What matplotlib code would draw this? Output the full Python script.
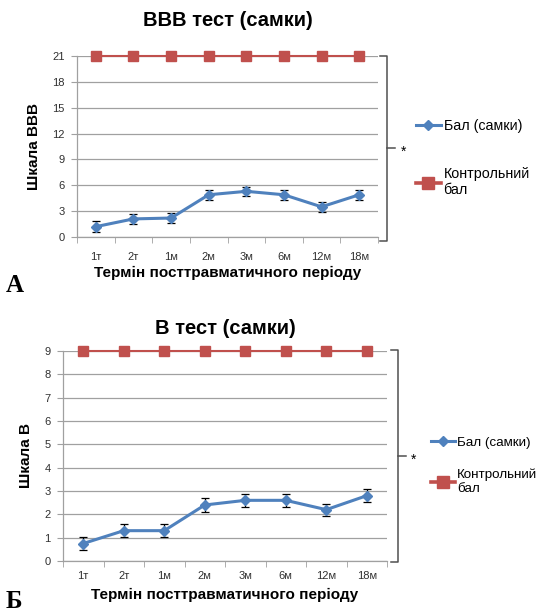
import matplotlib
matplotlib.use("Agg")
import matplotlib.pyplot as plt
from matplotlib.lines import Line2D
import numpy as np

plt.rcParams['font.family'] = ['Liberation Sans', 'DejaVu Sans']

categories = ["1т", "2т", "1м", "2м", "3м", "6м", "12м", "18м"]
bbb_values = [1.2, 2.1, 2.2, 4.9, 5.3, 4.9, 3.5, 4.9]
bbb_errors = [0.6, 0.55, 0.55, 0.55, 0.55, 0.55, 0.55, 0.6]
bbb_control = [21, 21, 21, 21, 21, 21, 21, 21]
b_values = [0.75, 1.3, 1.3, 2.4, 2.6, 2.6, 2.2, 2.8]
b_errors = [0.28, 0.28, 0.28, 0.28, 0.28, 0.27, 0.26, 0.27]
b_control = [9, 9, 9, 9, 9, 9, 9, 9]
bbb_ticks = [0, 3, 6, 9, 12, 15, 18, 21]
b_ticks = [0, 1, 2, 3, 4, 5, 6, 7, 8, 9]

BLUE = "#4F81BD"
RED = "#C0504D"
GRID = "#A0A0A0"

W, H = 539, 614
fig = plt.figure(figsize=(W / 100, H / 100), dpi=100)


def px_rect(l, t, r, b):
    return [l / W, 1 - b / H, (r - l) / W, (b - t) / H]


def make_panel(rect, values, errors, control, ticks, title, ylabel,
               title_y, xlab_y, xtick_pad):
    ax = fig.add_axes(rect)
    x = np.arange(len(categories))
    ax.plot(x, control, color=RED, lw=1.5, marker='s', ms=7.5,
            zorder=3, clip_on=False)
    ax.errorbar(x, values, yerr=errors, color=BLUE, lw=2.2, marker='D',
                ms=5, ecolor='black', elinewidth=0.9, capsize=3,
                capthick=0.9, zorder=4)
    ax.set_xlim(-0.5, len(categories) - 0.5)
    ax.set_ylim(0, ticks[-1])
    ax.set_yticks(ticks)
    ax.set_xticks(x)
    ax.set_xticklabels(categories)
    ax.set_xticks(np.arange(-0.5, len(categories)), minor=True)
    ax.tick_params(axis='x', which='major', length=0, pad=xtick_pad,
                   labelsize=8, colors='#303030')
    ax.tick_params(axis='x', which='minor', length=4, color=GRID)
    ax.tick_params(axis='y', length=4, color=GRID, labelsize=8,
                   labelcolor='#303030', pad=5)
    ax.grid(axis='y', color=GRID, lw=0.9)
    ax.set_axisbelow(True)
    for s in ['top', 'right']:
        ax.spines[s].set_visible(False)
    for s in ['left', 'bottom']:
        ax.spines[s].set_color(GRID)
        ax.spines[s].set_linewidth(0.9)
    ax.set_ylabel(ylabel, fontsize=11, fontweight='bold', labelpad=8)
    fig.text((rect[0] + rect[2] / 2), 1 - title_y / H, title,
             fontsize=14.5, fontweight='bold', ha='center', va='center')
    fig.text((rect[0] + rect[2] / 2), 1 - xlab_y / H,
             "Термін посттравматичного періоду", fontsize=11,
             fontweight='bold', ha='center', va='center')
    return ax


ax1 = make_panel(px_rect(77, 56, 378, 237), bbb_values, bbb_errors,
                 bbb_control, bbb_ticks, "BBB тест (самки)", "Шкала BBB",
                 20, 273, 11)
ax2 = make_panel(px_rect(63, 351, 387, 561), b_values, b_errors,
                 b_control, b_ticks, "B тест (самки)", "Шкала B",
                 328, 595, 7)


def bracket(x, top, bot, mid, star_x, star_y):
    kw = dict(transform=fig.transFigure, color='#505050', lw=1.1)
    pts_x = [x - 7, x, x, x - 7]
    pts_y = [top, top, bot, bot]
    fig.add_artist(Line2D([p / W for p in pts_x], [1 - p / H for p in pts_y], **kw))
    fig.add_artist(Line2D([x / W, (x + 8) / W], [1 - mid / H] * 2, **kw))
    fig.text(star_x / W, 1 - star_y / H, "*", fontsize=10, ha='center',
             va='center')


bracket(387, 56, 241, 148, 404, 152)
bracket(398, 350, 562, 456, 414, 460)

legend_labels = ["Бал (самки)", "Контрольний\nбал"]


def legend(x, y, fs, spacing):
    handles = [Line2D([], [], color=BLUE, lw=2.2, marker='D', ms=5),
               Line2D([], [], color=RED, lw=2.6, marker='s', ms=8)]
    fig.legend(handles, legend_labels,
               loc='upper left', bbox_to_anchor=(x / W, 1 - y / H),
               frameon=False, fontsize=fs, handlelength=1.75,
               handletextpad=0.2, labelspacing=spacing, borderaxespad=0)


legend(410, 113, 10.3, 2.4)
legend(426, 431, 9.6, 1.5)

fig.text(6 / W, 1 - 285 / H, "A", fontsize=18, fontweight='bold',
         family='Liberation Serif', va='center', ha='left')
fig.text(6 / W, 1 - 602 / H, "Б", fontsize=18, fontweight='bold',
         family='Liberation Serif', va='center', ha='left')

fig.savefig("out.png", dpi=100)
